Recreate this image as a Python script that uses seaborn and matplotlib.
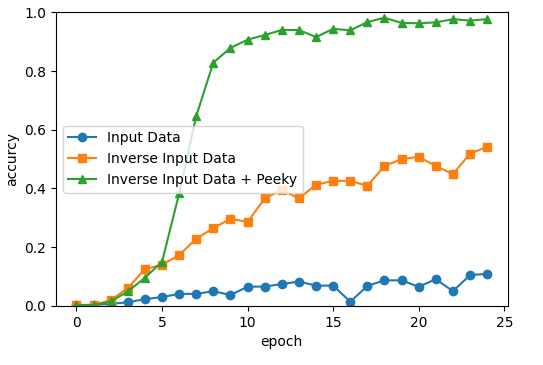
import matplotlib
matplotlib.use("Agg")
import matplotlib.pyplot as plt
import seaborn as sns

epochs = list(range(25))
input_data = [0.003, 0.003, 0.007, 0.012, 0.023, 0.03, 0.041, 0.041, 0.05, 0.037,
              0.065, 0.066, 0.074, 0.083, 0.069, 0.069, 0.014, 0.068, 0.087, 0.087,
              0.065, 0.091, 0.05, 0.105, 0.109]
inverse_data = [0.003, 0.003, 0.019, 0.061, 0.125, 0.14, 0.173, 0.229, 0.265, 0.297,
                0.286, 0.366, 0.395, 0.366, 0.413, 0.426, 0.426, 0.409, 0.477, 0.5,
                0.508, 0.476, 0.449, 0.519, 0.542]
peeky_data = [0.003, 0.003, 0.015, 0.049, 0.096, 0.15, 0.383, 0.647, 0.829, 0.879,
              0.907, 0.923, 0.94, 0.94, 0.916, 0.944, 0.939, 0.967, 0.982, 0.964,
              0.963, 0.966, 0.977, 0.972, 0.977]
labels = ["Input Data", "Inverse Input Data", "Inverse Input Data + Peeky"]

fig, ax = plt.subplots(figsize=(5.43, 3.65), dpi=100)
fig.subplots_adjust(left=0.103, right=0.935, top=0.966, bottom=0.162)

series = [input_data, inverse_data, peeky_data]
markers = ["o", "s", "^"]
colors = ["#1f77b4", "#ff7f0e", "#2ca02c"]
for ys, lab, m, c in zip(series, labels, markers, colors):
    sns.lineplot(x=epochs, y=ys, ax=ax, label=lab, marker=m, color=c,
                 markersize=6, linewidth=1.5, markeredgecolor=c, markeredgewidth=1)

ax.set_ylim(0, 1.0)
ax.set_xlabel("epoch")
ax.set_ylabel("accurcy")
ax.legend(loc="center left")
fig.savefig("out.png", dpi=100)
